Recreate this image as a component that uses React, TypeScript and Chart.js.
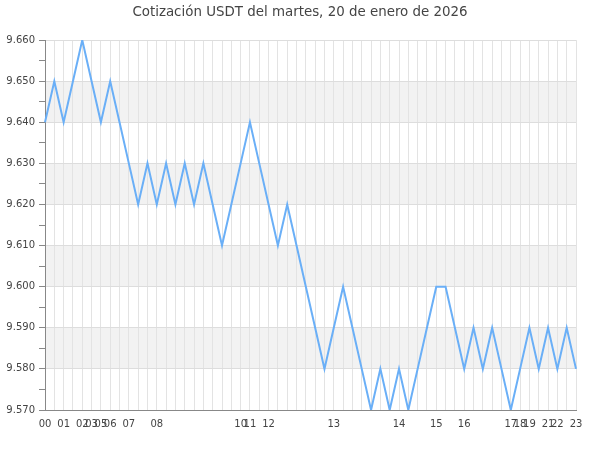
import React, { useEffect, useRef } from 'react';
import { Chart, registerables } from 'chart.js';

Chart.register(...registerables);

const chartTitle = 'Cotización USDT del martes, 20 de enero de 2026';

const hourLabels = [
  '00', '', '01', '', '02', '03', '05', '06', '', '07',
  '', '', '08', '', '', '', '', '', '', '',
  '', '10', '11', '', '12', '', '', '', '', '',
  '', '13', '', '', '', '', '', '', '14', '',
  '', '', '15', '', '', '16', '', '', '', '',
  '17', '18', '19', '', '21', '22', '', '23',
];

const prices = [
  9.640, 9.650, 9.640, 9.650, 9.660, 9.650, 9.640, 9.650, 9.640, 9.630,
  9.620, 9.630, 9.620, 9.630, 9.620, 9.630, 9.620, 9.630, 9.620, 9.610,
  9.620, 9.630, 9.640, 9.630, 9.620, 9.610, 9.620, 9.610, 9.600, 9.590,
  9.580, 9.590, 9.600, 9.590, 9.580, 9.570, 9.580, 9.570, 9.580, 9.570,
  9.580, 9.590, 9.600, 9.600, 9.590, 9.580, 9.590, 9.580, 9.590, 9.580,
  9.570, 9.580, 9.590, 9.580, 9.590, 9.580, 9.590, 9.580,
];

const yMin = 9.57;
const yMax = 9.66;
const yStep = 0.005;
const bandLows = [9.58, 9.6, 9.62, 9.64];
const bandHeight = 0.01;

const isMajor = (v: number) => Math.round(v * 1000) % 10 === 0;

export default function App() {
  const ref = useRef<HTMLCanvasElement>(null);

  useEffect(() => {
    document.body.style.margin = '0';
    if (!ref.current) return;

    const bandsPlugin = {
      id: 'bands',
      beforeDraw(chart: any) {
        const { ctx, chartArea, scales } = chart;
        const y = scales.y;
        ctx.save();
        ctx.fillStyle = '#f2f2f2';
        for (const lo of bandLows) {
          const top = y.getPixelForValue(lo + bandHeight);
          const bot = y.getPixelForValue(lo);
          ctx.fillRect(chartArea.left, top, chartArea.right - chartArea.left, bot - top);
        }
        ctx.restore();
      },
    };

    const chart = new Chart(ref.current, {
      type: 'line',
      data: {
        labels: hourLabels,
        datasets: [
          {
            data: prices,
            borderColor: '#6aaff7',
            borderWidth: 2,
            pointRadius: 0,
            tension: 0,
            fill: false,
          },
        ],
      },
      options: {
        responsive: false,
        animation: false,
        layout: { padding: { left: 0, right: 0, top: 0, bottom: 0 } },
        plugins: {
          legend: { display: false },
          tooltip: { enabled: false },
          title: {
            display: true,
            text: chartTitle,
            color: '#444',
            font: { family: 'DejaVu Sans', size: 13.4, weight: 'normal' },
            padding: { top: 4, bottom: 20 },
          },
        },
        scales: {
          x: {
            type: 'category',
            offset: false,
            afterFit: (s: any) => { s.height = 40; },
            grid: { color: '#e3e3e3', drawTicks: false },
            border: { color: '#888', width: 1 },
            ticks: {
              autoSkip: false,
              maxRotation: 0,
              minRotation: 0,
              padding: 8,
              color: '#444',
              font: { family: 'DejaVu Sans', size: 10 },
            },
          },
          y: {
            min: yMin,
            max: yMax,
            afterFit: (s: any) => { s.width = 45; },
            grid: {
              color: (c: any) => (c.tick && isMajor(c.tick.value) ? '#dddddd' : 'rgba(0,0,0,0)'),
              tickColor: '#888',
              tickLength: 6,
            },
            border: { color: '#888', width: 1 },
            ticks: {
              stepSize: yStep,
              padding: 4,
              color: '#444',
              font: { family: 'DejaVu Sans', size: 10 },
              callback: (v: any) => (isMajor(Number(v)) ? Number(v).toFixed(3) : ''),
            },
          },
          spacer: {
            type: 'linear',
            position: 'right',
            afterFit: (s: any) => { s.width = 24; },
            grid: { display: false },
            border: { display: false },
            ticks: { display: false },
          },
        },
      },
      plugins: [bandsPlugin],
    });

    return () => chart.destroy();
  }, []);

  return (
    <div style={{ width: 600, height: 450 }}>
      <canvas ref={ref} width={600} height={450} />
    </div>
  );
}
